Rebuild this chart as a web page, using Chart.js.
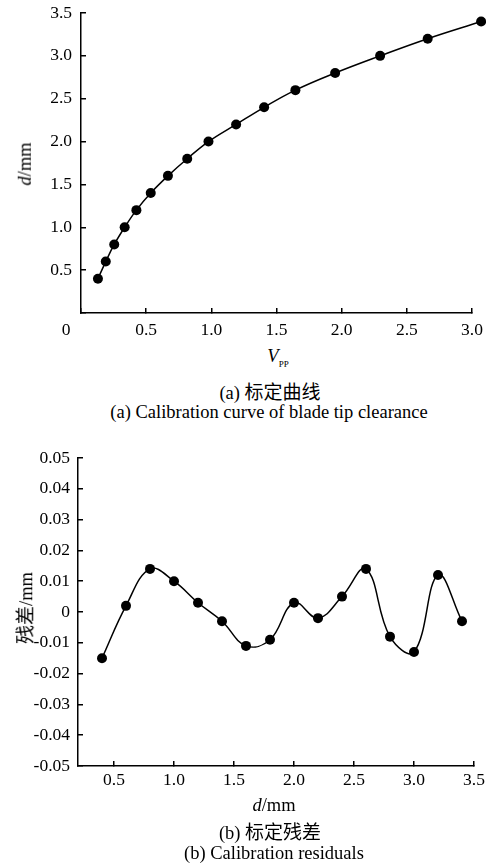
<!DOCTYPE html>
<html>
<head>
<meta charset="utf-8">
<script src="https://cdn.jsdelivr.net/npm/chart.js"></script>
<style>
body { margin: 0; background: #fff; width: 486px; height: 865px; position: relative; overflow: hidden;
       font-family: "Liberation Serif", "Times New Roman", serif; color: #000; }
.box { position: absolute; left: 0; width: 486px; }
.t { position: absolute; white-space: nowrap; font-size: 18.5px; line-height: 1; transform: translateX(-50%); }
.rot { transform: translate(-50%, -50%) rotate(-90deg); }
.cjk { font-family: "Noto Sans CJK SC", sans-serif; font-size: 19px; }
</style>
</head>
<body>
<div class="box" style="top:0;height:345px"><canvas id="chartA"></canvas></div>
<div class="box" style="top:440px;height:360px"><canvas id="chartB"></canvas></div>

<div class="t" style="left:66px;top:321px;font-size:17.5px">0</div>
<div class="t rot" style="left:25px;top:164px"><i>d</i>/mm</div>
<div class="t" style="left:278px;top:347px"><i>V</i><sub style="font-size:9px">PP</sub></div>
<div class="t" style="left:270px;top:381px">(a) <span class="cjk">标定曲线</span></div>
<div class="t" style="left:269px;top:403px">(a) Calibration curve of blade tip clearance</div>

<div class="t rot" style="left:25px;top:608px"><span class="cjk">残差</span>/mm</div>
<div class="t" style="left:274px;top:796px"><i>d</i>/mm</div>
<div class="t" style="left:270px;top:821px">(b) <span class="cjk">标定残差</span></div>
<div class="t" style="left:274px;top:844px">(b) Calibration residuals</div>

<script>
// (a) calibration curve
const vpp = [0.13, 0.19, 0.255, 0.335, 0.425, 0.535, 0.667, 0.815, 0.978, 1.19, 1.405, 1.645, 1.95, 2.295, 2.66, 3.07];
const clearance = [0.4, 0.6, 0.8, 1.0, 1.2, 1.4, 1.6, 1.8, 2.0, 2.2, 2.4, 2.6, 2.8, 3.0, 3.2, 3.4];
const xTicksA = [0, 0.5, 1.0, 1.5, 2.0, 2.5, 3.0];
const yTicksA = [0, 0.5, 1.0, 1.5, 2.0, 2.5, 3.0, 3.5];

// (b) calibration residuals
const dB = [0.4, 0.6, 0.8, 1.0, 1.2, 1.4, 1.6, 1.8, 2.0, 2.2, 2.4, 2.6, 2.8, 3.0, 3.2, 3.4];
const residual = [-0.015, 0.002, 0.014, 0.010, 0.003, -0.003, -0.011, -0.009, 0.003, -0.002, 0.005, 0.014, -0.008, -0.013, 0.012, -0.003];
const xTicksB = [0.5, 1.0, 1.5, 2.0, 2.5, 3.0, 3.5];
const yTicksB = [-0.05, -0.04, -0.03, -0.02, -0.01, 0, 0.01, 0.02, 0.03, 0.04, 0.05];

const tickFont = { family: '"Liberation Serif", "Times New Roman", serif', size: 17.5 };

function axis(min, max, list, fmt, pad, size) {
    return {
        type: 'linear',
        min: min,
        max: max,
        afterBuildTicks: s => { s.ticks = list.map(v => ({ value: v })); },
        afterFit: s => {
            if (s.isHorizontal()) s.height = size; else s.width = size;
            // no automatic room for edge labels, chart area = layout padding
            s.paddingLeft = s.paddingRight = s.paddingTop = s.paddingBottom = 0;
        },
        border: { color: '#000', width: 1.5 },
        grid: { drawOnChartArea: false, tickLength: -5, color: '#000', lineWidth: 1.5 },
        ticks: { padding: pad, color: '#000', font: tickFont, maxRotation: 0, autoSkip: false, callback: fmt }
    };
}

function lineSet(xs, ys) {
    return {
        data: xs.map((x, i) => ({ x: x, y: ys[i] })),
        borderColor: '#000',
        borderWidth: 1.5,
        backgroundColor: '#000',
        pointBackgroundColor: '#000',
        pointBorderWidth: 0,
        pointRadius: 5,
        tension: 0.4,
        clip: false
    };
}

// last point of (a) sits past the end of the x axis; let it be drawn
const edgePoints = {
    id: 'edgePoints',
    beforeDatasetsDraw(chart) { chart.$right = chart.chartArea.right; chart.chartArea.right += 30; },
    afterDatasetsDraw(chart) { chart.chartArea.right = chart.$right; }
};

const common = {
    animation: false,
    responsive: true,
    maintainAspectRatio: false,
    plugins: { legend: { display: false }, tooltip: { enabled: false } }
};

new Chart(document.getElementById('chartA'), {
    type: 'line',
    data: { datasets: [lineSet(vpp, clearance)] },
    plugins: [edgePoints],
    options: Object.assign({}, common, {
        layout: { padding: { top: 13, right: 14, left: 0, bottom: 0 } },
        scales: {
            x: axis(0, 3, xTicksA, v => v === 0 ? '' : v.toFixed(1), 12, 32),
            y: axis(0, 3.5, yTicksA, v => v === 0 ? '' : v.toFixed(1), 14, 81)
        }
    })
});

new Chart(document.getElementById('chartB'), {
    type: 'line',
    data: { datasets: [lineSet(dB, residual)] },
    options: Object.assign({}, common, {
        layout: { padding: { top: 18, right: 12, left: 0, bottom: 0 } },
        scales: {
            x: axis(0.2, 3.5, xTicksB, v => v.toFixed(1), 9, 34),
            y: axis(-0.05, 0.05, yTicksB, v => Math.abs(v) < 1e-9 ? '0' : v.toFixed(2), 13, 78)
        }
    })
});
</script>
</body>
</html>
